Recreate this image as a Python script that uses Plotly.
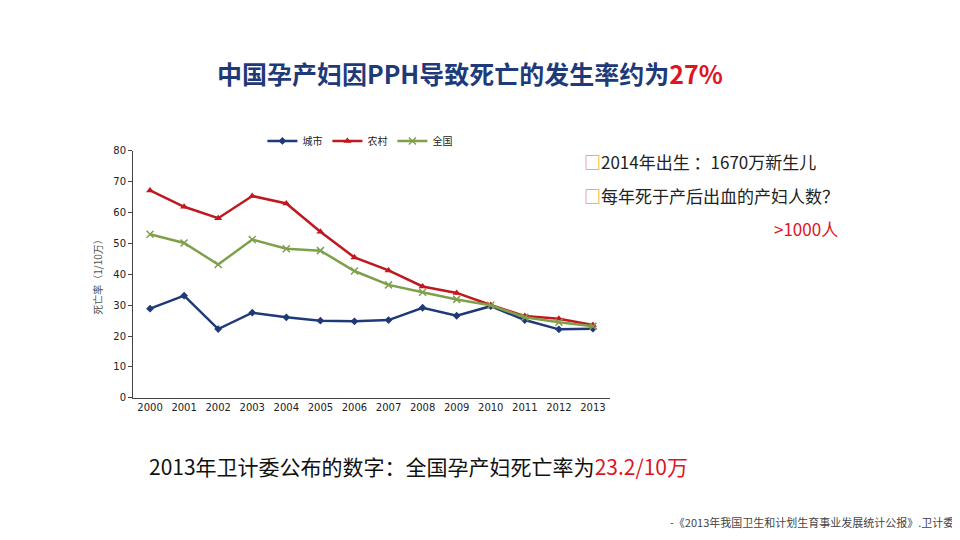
import plotly.graph_objects as go

years = [str(y) for y in range(2000, 2014)]
city = [28.9, 33.1, 22.3, 27.6, 26.1, 25.0, 24.8, 25.2, 29.2, 26.6, 29.7, 25.2, 22.2, 22.4]
rural = [67.2, 61.9, 58.2, 65.4, 63.0, 53.8, 45.5, 41.3, 36.1, 34.0, 30.1, 26.5, 25.6, 23.6]
national = [53.0, 50.2, 43.2, 51.3, 48.3, 47.7, 41.1, 36.6, 34.2, 31.9, 30.0, 26.1, 24.5, 23.2]
y_ticks = [0, 10, 20, 30, 40, 50, 60, 70, 80]

xs = list(range(len(years)))
fig = go.Figure()
fig.add_trace(go.Scatter(x=xs, y=city, name="城市", mode="lines+markers",
                         line=dict(color="#1F3A78", width=2.5), marker=dict(symbol="diamond", size=6)))
fig.add_trace(go.Scatter(x=xs, y=rural, name="农村", mode="lines+markers",
                         line=dict(color="#C0181E", width=2.5), marker=dict(symbol="triangle-up", size=7)))
fig.add_trace(go.Scatter(x=xs, y=national, name="全国", mode="lines+markers",
                         line=dict(color="#7FA04A", width=2.5), marker=dict(symbol="x-thin", size=7, line=dict(width=1.5, color="#7FA04A"))))

font = "Noto Sans CJK SC"
def Y(p):
    return 1 - (p - 13) / 0.98 / 540

fig.update_layout(
    width=960, height=540, paper_bgcolor="white", plot_bgcolor="white",
    margin=dict(l=0, r=0, t=0, b=0),
    font=dict(family=font, color="#222"),
    xaxis=dict(domain=[125/960, 602/960], range=[-0.5, 13.5], tickmode="array", tickvals=xs, ticktext=years,
               showline=True, linecolor="#444", showgrid=False, ticks="", zeroline=False,
               tickfont=dict(size=10, family="DejaVu Sans", color="#222")),
    yaxis=dict(domain=[Y(397), Y(150)], range=[0, 80], tickvals=y_ticks, showline=True, linecolor="#444",
               showgrid=False, ticks="outside", ticklen=4, zeroline=False,
               tickfont=dict(size=10, family="DejaVu Sans", color="#222"),
               title=dict(text="死亡率（1/10万）", font=dict(size=10, color="#555"), standoff=8)),
    legend=dict(orientation="h", x=0.265, y=Y(140), xanchor="left", yanchor="middle",
                font=dict(size=10), bgcolor="rgba(0,0,0,0)"),
    showlegend=True,
)

sq = "<b><span style='color:#F0A020'>□</span></b>"
ann = [
    dict(x=462/960, y=Y(72), text="<b>中国孕产妇因PPH导致死亡的发生率约为<span style='color:#E0141E'>27%</span></b>",
         font=dict(size=25, color="#1F3A78")),
    dict(x=574/960, y=Y(161), xanchor="left", text=sq + "2014年出生 ：1670万新生儿",
         font=dict(size=17, color="#222")),
    dict(x=574/960, y=Y(195), xanchor="left", text=sq + "每年死于产后出血的产妇人数？",
         font=dict(size=17, color="#222")),
    dict(x=764/960, y=Y(228), xanchor="left", text=">1000人", font=dict(size=17, color="#E0141E")),
    dict(x=410/960, y=Y(465), text="2013年卫计委公布的数字：全国孕产妇死亡率为<span style='color:#E0141E'>23.2/10万</span>",
         font=dict(size=21, color="#111")),
    dict(x=948/960, y=Y(521), xanchor="right", text="-《2013年我国卫生和计划生育事业发展统计公报》.卫计委",
         font=dict(size=11, color="#444")),
]
for a in ann:
    a.update(xref="paper", yref="paper", showarrow=False)
    a.setdefault("xanchor", "center")
    a.setdefault("yanchor", "middle")
fig.update_layout(annotations=ann)
fig.write_html("out.html")
